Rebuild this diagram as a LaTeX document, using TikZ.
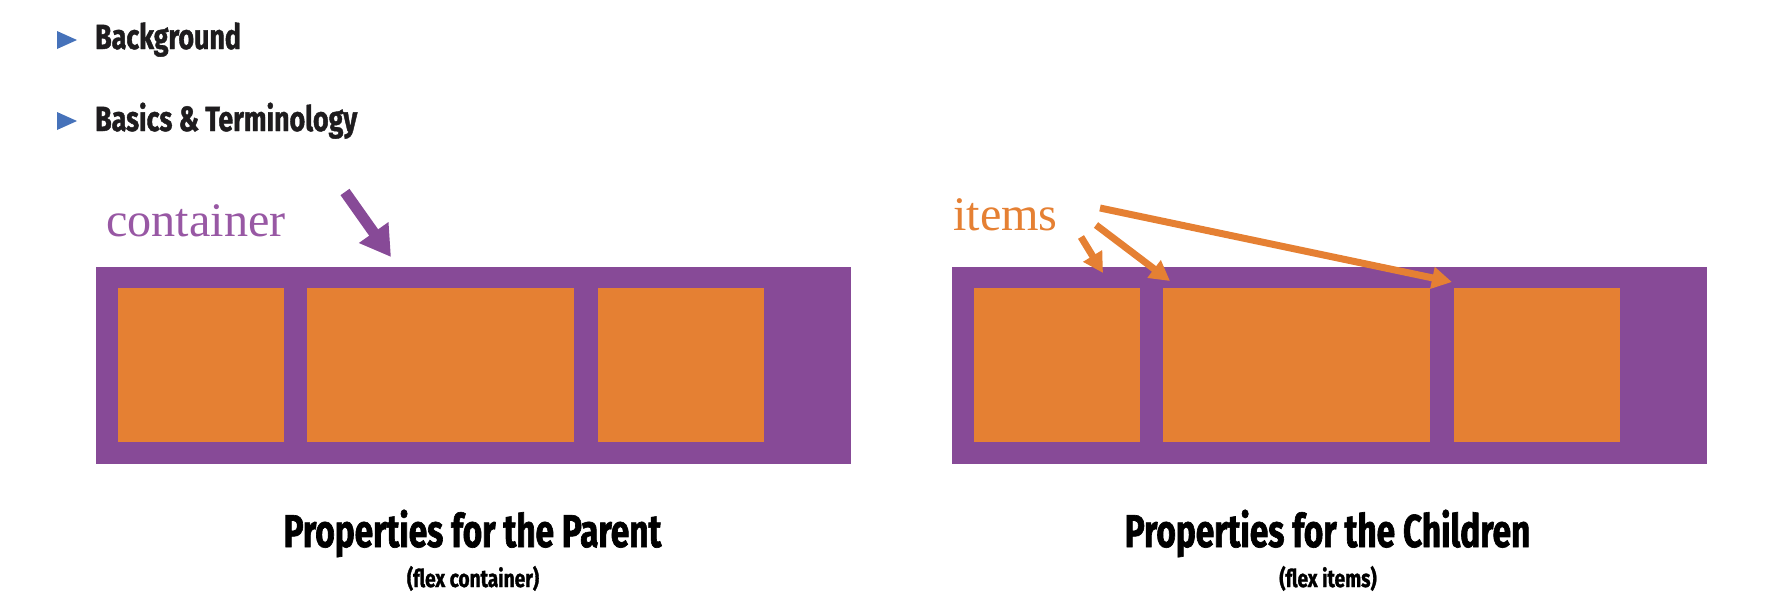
\documentclass[tikz,border=0pt]{standalone}
\usepackage{fontspec}
\setmainfont{Liberation Serif}
\newfontfamily\menufont[FakeStretch=0.765,FakeBold=1.2]{Fira Sans}
\newfontfamily\headfont[FakeStretch=0.725,FakeBold=1.4]{Fira Sans}
\newfontfamily\subfont[FakeStretch=0.78,FakeBold=1.2]{Fira Sans}
\usetikzlibrary{arrows.meta}
\definecolor{cpurple}{RGB}{135,74,151}
\definecolor{corange}{RGB}{229,128,51}
\definecolor{clabel}{RGB}{152,88,164}
\definecolor{cblue}{RGB}{70,114,186}
\definecolor{cink}{RGB}{30,28,30}
\begin{document}
\begin{tikzpicture}[x=1pt,y=-1pt,
  panel/.style={fill=cpurple, draw=none, inner sep=0pt, outer sep=0pt, anchor=north west,
    minimum width=755pt, minimum height=197pt},
  itembox/.style={fill=corange, draw=none, inner sep=0pt, outer sep=0pt, anchor=north west,
    minimum height=154pt},
  bigarrow/.style={draw=cpurple, line width=11pt, -{Triangle[width=34pt,length=30pt]}},
  itemarrow/.style={draw=corange, line width=7pt, -{Triangle[width=21pt,length=20pt]}},
  menu/.style={font=\menufont\bfseries\fontsize{35}{40}\selectfont, text=cink, anchor=base west, inner sep=0pt},
  heading/.style={font=\headfont\bfseries\fontsize{46}{50}\selectfont, text=black, anchor=base, inner sep=0pt},
  subhead/.style={font=\subfont\bfseries\fontsize{24.5}{28}\selectfont, text=black, anchor=base, inner sep=0pt},
  serif/.style={font=\fontsize{48.2}{50}\selectfont, anchor=base west, inner sep=0pt},
  bulletmark/.style={fill=cblue}
]
\useasboundingbox (0,0) rectangle (1781,611);

% menu
\fill[bulletmark] (57,31) -- (77,40) -- (57,49) -- cycle;
\node[menu] (bg) at (95,49) {Background};
\fill[bulletmark] (57,112) -- (77,121) -- (57,130) -- cycle;
\node[menu] (basics) at (95,131) {Basics \& Terminology};

% left panel
\node[panel] (pl) at (96,267) {};
\node[itembox, minimum width=166pt] (l1) at (118,288) {};
\node[itembox, minimum width=267pt] (l2) at (307,288) {};
\node[itembox, minimum width=166pt] (l3) at (598,288) {};

% right panel
\node[panel] (pr) at (952,267) {};
\node[itembox, minimum width=166pt] (r1) at (974,288) {};
\node[itembox, minimum width=267pt] (r2) at (1163,288) {};
\node[itembox, minimum width=166pt] (r3) at (1454,288) {};

% labels
\node[serif, text=clabel] (lblc) at (106,236) {container};
\node[serif, text=corange] (lbli) at (953,230) {items};

% arrows
\coordinate (ct) at (345,192);
\coordinate (ch) at (391,257);
\draw[bigarrow] (ct) -- (ch);

\coordinate (a1t) at (1081,237);
\coordinate (a1h) at (1103,273);
\coordinate (a2t) at (1096,225);
\coordinate (a2h) at (1170,281);
\coordinate (a3t) at (1100,208);
\coordinate (a3h) at (1452,282);
\draw[itemarrow] (a1t) -- (a1h);
\draw[itemarrow] (a2t) -- (a2h);
\draw[itemarrow] (a3t) -- (a3h);

% headings
\node[heading] (hp) at (472.5,547) {Properties for the Parent};
\node[subhead] (sp) at (473,587) {(flex container)};
\node[heading] (hc) at (1327.5,547) {Properties for the Children};
\node[subhead] (sc) at (1328,587) {(flex items)};
\end{tikzpicture}
\end{document}
